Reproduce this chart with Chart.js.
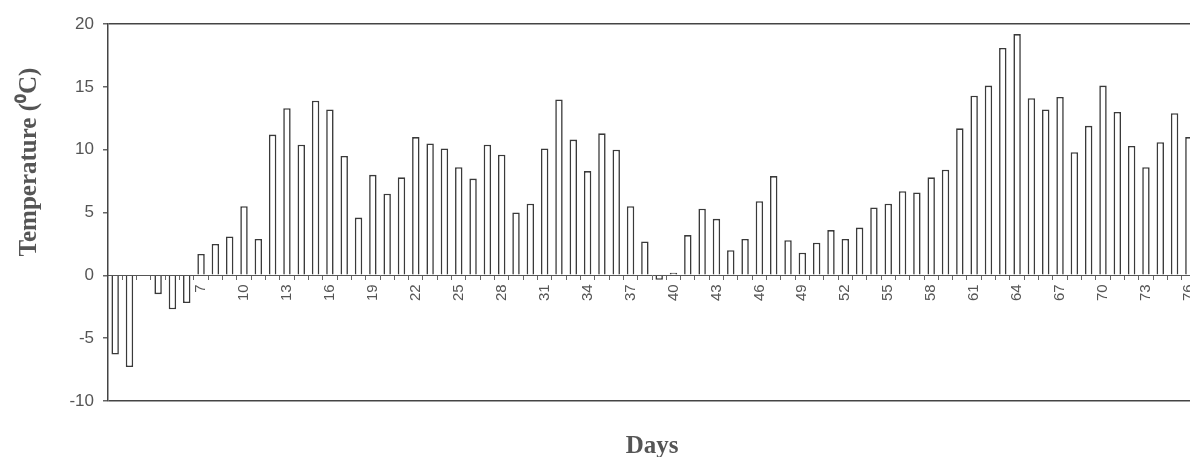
<!DOCTYPE html>
<html>
<head>
<meta charset="utf-8">
<script src="https://cdn.jsdelivr.net/npm/chart.js@4"></script>
<style>
  html, body { margin: 0; padding: 0; background: #fff; }
  #wrap { width: 1190px; height: 457px; overflow: hidden; }
  #temp { display: block; }
</style>
</head>
<body>
<div id="wrap"><canvas id="temp" width="1212" height="457"></canvas></div>
<script>
// =====================
// Daily temperature
// =====================
var days = [];
for (var d = 1; d <= 76; d++) days.push(String(d));

var temperature = [
  -6.3, -7.3, null, -1.5, -2.7, -2.2, 1.7, 2.5, 3.1, 5.5,
  2.9, 11.2, 13.3, 10.4, 13.9, 13.2, 9.5, 4.6, 8.0, 6.5,
  7.8, 11.0, 10.5, 10.1, 8.6, 7.7, 10.4, 9.6, 5.0, 5.7,
  10.1, 14.0, 10.8, 8.3, 11.3, 10.0, 5.5, 2.7, -0.35, 0.2,
  3.2, 5.3, 4.5, 2.0, 2.9, 5.9, 7.9, 2.8, 1.8, 2.6,
  3.6, 2.9, 3.8, 5.4, 5.7, 6.7, 6.6, 7.8, 8.4, 11.7,
  14.3, 15.1, 18.1, 19.2, 14.1, 13.2, 14.2, 9.8, 11.9, 15.1,
  13.0, 10.3, 8.6, 10.6, 12.9, 11.0
];

var yTicks = [-10, -5, 0, 5, 10, 15, 20];
var yTitle = 'Temperature (\u2070C)';
var xTitle = 'Days';

var grey = '#555';

// y title sits above the plot centre in the original, so draw it by hand
var yTitlePlugin = {
  id: 'yTitle',
  afterDraw: function (chart) {
    var ctx = chart.ctx;
    ctx.save();
    ctx.translate(30, chart.chartArea.top + 138);
    ctx.rotate(-Math.PI / 2);
    ctx.font = 'bold 25px "Liberation Serif"';
    ctx.fillStyle = grey;
    ctx.textAlign = 'center';
    ctx.textBaseline = 'middle';
    ctx.fillText(yTitle, 0, 0);
    ctx.restore();
  }
};

var ctxTemp = document.getElementById('temp').getContext('2d');

var tempChart = new Chart(ctxTemp, {
  type: 'bar',
  data: {
    labels: days,
    datasets: [{
      data: temperature,
      backgroundColor: '#ffffff',
      borderColor: '#3a3a3a',
      borderWidth: 1.6,
      barPercentage: 0.52,
      categoryPercentage: 1.0
    }]
  },
  plugins: [yTitlePlugin],
  options: {
    responsive: false,
    animation: false,
    layout: { padding: { top: 24, right: 5, left: 0, bottom: 0 } },
    plugins: {
      legend: { display: false },
      tooltip: { enabled: false }
    },
    scales: {
      x: {
        position: { y: 0 },
        offset: true,
        grid: { drawOnChartArea: false, drawTicks: true, tickLength: 4, tickColor: '#666', offset: true },
        border: { color: grey, width: 1 },
        ticks: {
          autoSkip: false,
          minRotation: 90,
          maxRotation: 90,
          padding: 5,
          color: grey,
          font: { family: '"Liberation Sans"', size: 15 },
          callback: function (v, i) {
            return (i % 3 === 0 && i >= 6) ? days[i] : '';
          }
        }
      },
      x2: {
        type: 'category',
        position: 'bottom',
        grid: { display: false },
        border: { display: false },
        ticks: { display: false },
        title: {
          display: true,
          text: xTitle,
          color: grey,
          padding: 0,
          font: { family: '"Liberation Serif"', size: 25, weight: 'bold', lineHeight: 0.8 }
        },
        afterFit: function (s) { s.height = 56; }
      },
      y: {
        min: -10,
        max: 20,
        afterBuildTicks: function (s) {
          s.ticks = yTicks.map(function (v) { return { value: v }; });
        },
        afterFit: function (s) { s.width = 108; },
        grid: {
          color: function (c) {
            return (c.tick && (c.tick.value === 20 || c.tick.value === -10)) ? '#444' : 'rgba(0,0,0,0)';
          },
          lineWidth: 1.5,
          tickColor: '#666',
          tickLength: 5
        },
        border: { color: '#444', width: 1.5 },
        ticks: {
          padding: 9,
          color: grey,
          font: { family: '"Liberation Sans"', size: 17 }
        }
      }
    }
  }
});
</script>
</body>
</html>
